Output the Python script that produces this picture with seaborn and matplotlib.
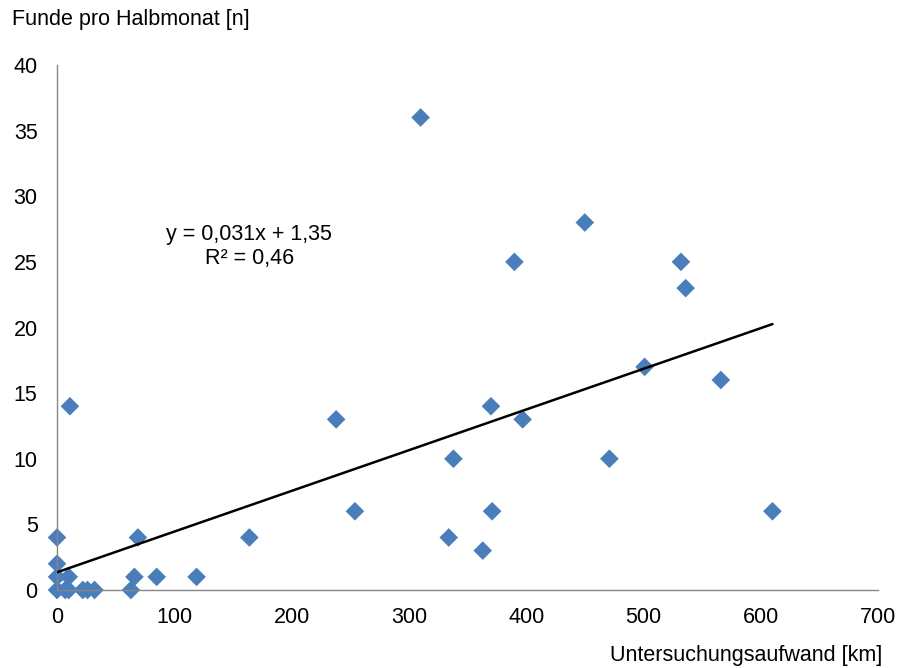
import numpy as np
import pandas as pd
import matplotlib
matplotlib.use("Agg")
import matplotlib.pyplot as plt
import seaborn as sns

# Untersuchungsaufwand [km] und Funde pro Halbmonat [n]
aufwand = [0, 7, 10, 22, 26, 32, 63,
           0, 10, 66, 85, 119,
           0,
           0, 69, 164,
           11, 238, 254, 310, 334, 338, 363, 370, 371, 390, 397,
           450, 471, 501, 532, 536, 566, 610]
funde = [0, 0, 0, 0, 0, 0, 0,
         1, 1, 1, 1, 1,
         2,
         4, 4, 4,
         14, 13, 6, 36, 4, 10, 3, 14, 6, 25, 13,
         28, 10, 17, 25, 23, 16, 6]

# lineare Trendlinie (wie angegeben)
steigung = 0.031
achsenabschnitt = 1.35
r2 = 0.46

x_ticks = [0, 100, 200, 300, 400, 500, 600, 700]
y_ticks = [0, 5, 10, 15, 20, 25, 30, 35, 40]

df = pd.DataFrame({"aufwand": aufwand, "funde": funde})

sns.set_style("white")
plt.rcParams["font.family"] = ["Liberation Sans", "DejaVu Sans"]
plt.rcParams["text.color"] = "black"

fs = 15.5

fig = plt.figure(figsize=(8.98, 6.68), dpi=100)
ax = fig.add_axes([57 / 898, 78 / 668, 821 / 898, 525 / 668])

# Trendlinie
xs = np.array([min(aufwand), max(aufwand)])
ax.plot(xs, steigung * xs + achsenabschnitt, color="black", lw=1.8, zorder=3)

sns.scatterplot(data=df, x="aufwand", y="funde", marker="D", s=90,
                color="#4a7ebb", edgecolor="none", ax=ax, zorder=2, clip_on=False)

ax.set_xlim(0, 700)
ax.set_ylim(0, 40)
ax.set_xticks(x_ticks)
ax.set_yticks(y_ticks)
ax.set_xlabel("")
ax.set_ylabel("")

for s in ["top", "right"]:
    ax.spines[s].set_visible(False)
for s in ["left", "bottom"]:
    ax.spines[s].set_color("#868686")
    ax.spines[s].set_linewidth(1.0)
ax.tick_params(axis="both", direction="out", length=4, width=1.0,
               color="#868686", labelsize=fs, labelcolor="black")
ax.tick_params(axis="x", pad=8)
ax.tick_params(axis="y", pad=10)

eq = f"y = {steigung:.3f}x + {achsenabschnitt:.2f}".replace(".", ",")
r2_txt = f"R² = {r2:.2f}".replace(".", ",")
ax.text(0.234, 0.655, eq + "\n" + r2_txt, transform=ax.transAxes,
        ha="center", va="center", fontsize=fs, linespacing=1.2)

fig.text(12 / 898, 1 - 20 / 668, "Funde pro Halbmonat [n]",
         ha="left", va="center", fontsize=fs)
fig.text(882 / 898, 1 - 655 / 668, "Untersuchungsaufwand [km]",
         ha="right", va="center", fontsize=fs)

fig.savefig("out.png", dpi=100, facecolor="white")
